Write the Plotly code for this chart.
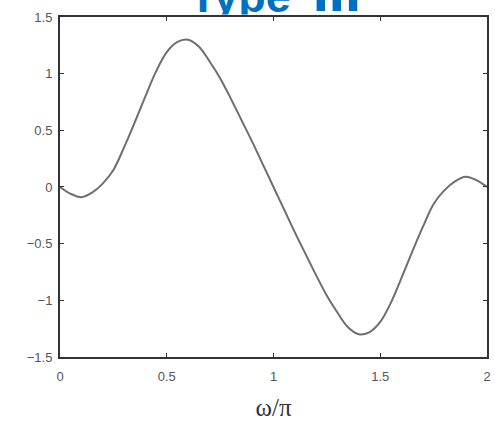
import plotly.graph_objects as go

# Data
omega_over_pi = [0.0, 0.05, 0.1, 0.15, 0.2, 0.25, 0.3, 0.35, 0.4, 0.45, 0.5,
                 0.55, 0.6, 0.65, 0.7, 0.75, 0.8, 0.85, 0.9, 0.95, 1.0,
                 1.05, 1.1, 1.15, 1.2, 1.25, 1.3, 1.35, 1.4, 1.45, 1.5,
                 1.55, 1.6, 1.65, 1.7, 1.75, 1.8, 1.85, 1.9, 1.95, 2.0]
amplitude = [0.0, -0.06, -0.09, -0.05, 0.03, 0.15, 0.35, 0.57, 0.80, 1.02, 1.19,
             1.28, 1.30, 1.24, 1.11, 0.96, 0.78, 0.59, 0.40, 0.20, 0.0,
             -0.20, -0.40, -0.59, -0.78, -0.96, -1.11, -1.24, -1.30, -1.28, -1.19,
             -1.02, -0.80, -0.57, -0.35, -0.15, -0.03, 0.05, 0.09, 0.06, 0.0]
x_ticks = [0, 0.5, 1, 1.5, 2]
x_tick_labels = ["0", "0.5", "1", "1.5", "2"]
y_ticks = [-1.5, -1, -0.5, 0, 0.5, 1, 1.5]
y_tick_labels = ["\u22121.5", "\u22121", "\u22120.5", "0", "0.5", "1", "1.5"]
title_words = ["Type", "III"]
x_title = "\u03c9/\u03c0"

fig = go.Figure()
fig.add_trace(go.Scatter(
    x=omega_over_pi, y=amplitude, mode="lines",
    line=dict(color="#6e6e6e", width=2, shape="spline", smoothing=1.0),
    showlegend=False, hoverinfo="skip"))

# Title drawn as text in a thin top strip so that its lower part is clipped
title_font = dict(family="Liberation Sans, Arial", color="#0070C0", weight="bold")
fig.add_trace(go.Scatter(
    x=[0.843], y=[-0.61], mode="text", text=[title_words[0]],
    textposition="top center", textfont=dict(size=45, **title_font),
    xaxis="x2", yaxis="y2", cliponaxis=True, showlegend=False, hoverinfo="skip"))
fig.add_trace(go.Scatter(
    x=[1.297], y=[-0.8], mode="text", text=[title_words[1]],
    textposition="top center", textfont=dict(size=58, **title_font),
    xaxis="x2", yaxis="y2", cliponaxis=True, showlegend=False, hoverinfo="skip"))

axis_common = dict(showline=True, linecolor="#333333", linewidth=2, mirror="ticks",
                   ticks="inside", ticklen=4, tickwidth=1, tickcolor="#333333",
                   showgrid=False, zeroline=False, automargin=False,
                   tickfont=dict(family="Liberation Sans, Arial", size=13, color="#555555"))

fig.update_layout(
    width=495, height=422,
    margin=dict(l=60, r=8, t=0, b=65, autoexpand=False),
    paper_bgcolor="white", plot_bgcolor="white",
    xaxis=dict(range=[0, 2], tickvals=x_ticks, ticktext=x_tick_labels, domain=[0, 1],
               title=dict(text=x_title, standoff=16,
                          font=dict(family="Liberation Serif, Times New Roman", size=25, color="#333333")),
               ticklabelstandoff=6,
               **axis_common),
    yaxis=dict(range=[-1.5, 1.5], tickvals=y_ticks, ticktext=y_tick_labels,
               domain=[0, 0.9524], ticklabelstandoff=3, **axis_common),
    xaxis2=dict(range=[0, 2], domain=[0, 1], anchor="y2", visible=False),
    yaxis2=dict(range=[0, 1], domain=[0.9597, 1], anchor="x2", visible=False),
    showlegend=False,
)

fig.write_html("out.html")
